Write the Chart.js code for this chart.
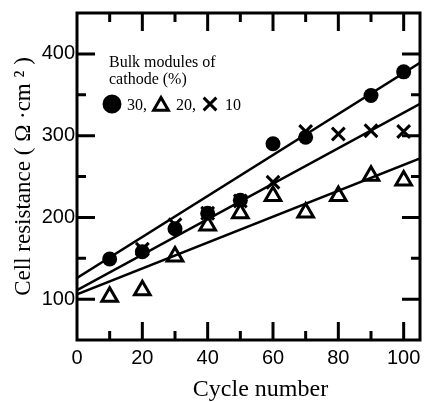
<!DOCTYPE html>
<html>
<head>
<meta charset="utf-8">
<script src="https://cdn.jsdelivr.net/npm/chart.js@4/dist/chart.umd.min.js"></script>
<style>
  html, body { margin: 0; padding: 0; background: #fff; }
  #wrap { width: 424px; height: 402px; }
</style>
</head>
<body>
<div id="wrap"><canvas id="resChart"></canvas></div>
<script>
// measured points
const circleX = [10, 20, 30, 40, 50, 60, 70, 90, 100];
const circleY = [149, 158, 186, 205, 221, 290, 298, 349, 378];
const triX = [10, 20, 30, 40, 50, 60, 70, 80, 90, 100];
const triY = [103, 111, 152, 190, 205, 226, 206, 226, 251, 245];
const crossX = [20, 30, 40, 50, 60, 70, 80, 90, 100];
const crossY = [161, 191, 205, 220, 243, 305, 302, 306, 305];

// straight-line fits, drawn across the whole axis
const fitX = [0, 105];
const fitCircle = [126, 389];
const fitCross = [111, 339];
const fitTri = [106, 272];

const xTicks = [0, 10, 20, 30, 40, 50, 60, 70, 80, 90, 100];
const legendLines = ['Bulk modules of', 'cathode (%)'];
const legendItems = [['circle', '30,'], ['triangle', '20,'], ['crossRot', '10']];

const pts = (xs, ys) => xs.map((x, i) => ({ x: x, y: ys[i] }));

const frameAndTicks = {
  id: 'frameAndTicks',
  afterDraw(chart) {
    const { ctx, chartArea: a, scales } = chart;
    ctx.save();
    ctx.strokeStyle = '#000';
    ctx.lineWidth = 3;
    ctx.strokeRect(a.left, a.top, a.right - a.left, a.bottom - a.top);
    ctx.beginPath();
    scales.x.ticks.forEach(t => {
      if (t.value <= scales.x.min || t.value >= scales.x.max) return;
      const px = scales.x.getPixelForValue(t.value);
      const len = t.value % 20 === 0 ? 18 : 9;
      ctx.moveTo(px, a.bottom); ctx.lineTo(px, a.bottom - len);
      ctx.moveTo(px, a.top); ctx.lineTo(px, a.top + len);
    });
    scales.y.ticks.forEach(t => {
      if (t.value <= scales.y.min || t.value >= scales.y.max) return;
      const py = scales.y.getPixelForValue(t.value);
      const len = t.value % 100 === 0 ? 18 : 9;
      ctx.moveTo(a.left, py); ctx.lineTo(a.left + len, py);
      ctx.moveTo(a.right, py); ctx.lineTo(a.right - len, py);
    });
    ctx.stroke();

    // legend text inside the plot
    ctx.fillStyle = '#000';
    ctx.font = '16px "Liberation Serif", serif';
    ctx.textBaseline = 'alphabetic';
    ctx.fillText(legendLines[0], 109, 67);
    ctx.fillText(legendLines[1], 109, 84);
    let x = 112;
    legendItems.forEach(([style, label]) => {
      const opts = { pointStyle: style, radius: style === 'circle' ? 8 : (style === 'triangle' ? 8.5 : 9), rotation: 0, borderWidth: 3 };
      ctx.fillStyle = style === 'circle' ? '#000' : '#fff';
      ctx.strokeStyle = '#000';
      ctx.lineWidth = 3;
      Chart.helpers.drawPoint(ctx, opts, x, style === 'triangle' ? 106 : 104);
      ctx.fillStyle = '#000';
      ctx.fillText(label, x + 15, 110);
      x += 49;
    });
    ctx.restore();
  }
};

new Chart(document.getElementById('resChart'), {
  type: 'scatter',
  data: {
    datasets: [
      { data: pts(fitX, fitCircle), showLine: true, borderColor: '#000', borderWidth: 2.5, pointRadius: 0, order: 0 },
      { data: pts(fitX, fitCross), showLine: true, borderColor: '#000', borderWidth: 2.5, pointRadius: 0, order: 0 },
      { data: pts(fitX, fitTri), showLine: true, borderColor: '#000', borderWidth: 2.5, pointRadius: 0, order: 0 },
      { data: pts(triX, triY), pointStyle: 'triangle', pointRadius: 9, pointBorderWidth: 3,
        pointBackgroundColor: '#fff', pointBorderColor: '#000', order: 1 },
      { data: pts(crossX, crossY), pointStyle: 'crossRot', pointRadius: 9, pointBorderWidth: 3,
        pointBorderColor: '#000', order: 1 },
      { data: pts(circleX, circleY), pointStyle: 'circle', pointRadius: 7.5, pointBorderWidth: 0,
        pointBackgroundColor: '#000', order: 1 },
    ],
  },
  options: {
    responsive: true,
    maintainAspectRatio: false,
    animation: false,
    layout: { autoPadding: false, padding: { top: 13, right: 4, left: 0, bottom: 0 } },
    plugins: { legend: { display: false }, tooltip: { enabled: false } },
    scales: {
      x: {
        type: 'linear', min: 0, max: 105,
        grid: { display: false, drawTicks: false },
        border: { display: false },
        afterBuildTicks: s => { s.ticks = xTicks.map(v => ({ value: v })); },
        ticks: {
          autoSkip: false, maxRotation: 0, padding: 6, color: '#000',
          font: { family: '"Liberation Sans", Arial, sans-serif', size: 20 },
          callback: v => (v % 20 === 0 ? v : ''),
        },
        title: {
          display: true, text: '\u2002\u2002Cycle number', color: '#000', padding: 0,
          font: { family: '"Liberation Serif", serif', size: 24, lineHeight: 1 },
        },
        afterFit: s => { s.height = 62; s.paddingLeft = 0; s.paddingRight = 0; },
      },
      y: {
        type: 'linear', min: 50, max: 450,
        grid: { display: false, drawTicks: false },
        border: { display: false },
        ticks: {
          stepSize: 50, autoSkip: false, padding: 2, color: '#000',
          font: { family: '"Liberation Sans", Arial, sans-serif', size: 20 },
          callback: v => (v % 100 === 0 && v >= 100 && v <= 400 ? v : ''),
        },
        title: {
          display: true, text: 'Cell resistance ( Ω ·cm ² )', color: '#000', padding: { top: 12, bottom: 0 },
          font: { family: '"Liberation Serif", serif', size: 23, lineHeight: 1 },
        },
        afterFit: s => { s.width = 77; s.paddingTop = 0; s.paddingBottom = 0; },
      },
    },
  },
  plugins: [frameAndTicks],
});
</script>
</body>
</html>
